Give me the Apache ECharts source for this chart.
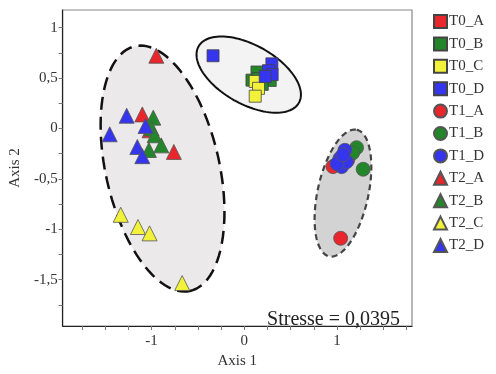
<!DOCTYPE html>
<html>
<head>
<meta charset="utf-8">
<script src="https://cdn.jsdelivr.net/npm/echarts@6/dist/echarts.min.js"></script>
<style>html,body{margin:0;padding:0;background:#fff}#c{width:496px;height:374px}</style>
</head>
<body>
<div id="c"></div>
<script>
var seriesNames = ['T0_A','T0_B','T0_C','T0_D','T1_A','T1_B','T1_D','T2_A','T2_B','T2_C','T2_D'];
var T0_A = [[0.204, 0.495]];
var T0_B = [[0.137, 0.560], [0.083, 0.479], [0.280, 0.476], [0.194, 0.437], [0.151, 0.495]];
var T0_C = [[0.118, 0.466], [0.154, 0.398], [0.118, 0.320]];
var T0_D = [[-0.337, 0.721], [0.298, 0.641], [0.261, 0.573], [0.301, 0.534], [0.226, 0.515]];
var T1_A = [[0.957, -0.379], [1.040, -1.090], [1.118, -0.311]];
var T1_B = [[1.212, -0.191], [1.169, -0.243], [1.283, -0.405]];
var T1_D = [[1.086, -0.217], [1.032, -0.298], [1.051, -0.379], [1.104, -0.330], [1.000, -0.350], [1.065, -0.262]];
var T2_A = [[-0.949, 0.721], [-1.100, 0.139], [-1.022, -0.019], [-0.760, -0.233]];
var T2_B = [[-0.982, 0.107], [-1.000, 0.000], [-0.968, -0.068], [-1.029, -0.214], [-0.896, -0.168]];
var T2_C = [[-1.333, -0.857], [-1.147, -0.978], [-1.022, -1.041], [-0.670, -1.534]];
var T2_D = [[-1.269, 0.126], [-1.452, -0.058], [-1.065, 0.024], [-1.154, -0.184], [-1.100, -0.275]];
var seriesData = [T0_A, T0_B, T0_C, T0_D, T1_A, T1_B, T1_D, T2_A, T2_B, T2_C, T2_D];

// ellipses: center, half-axis vector u, half-axis vector v (data units)
var ellipseCenters = [[-0.882, -0.398], [0.048, 0.534], [1.065, -0.641]];
var ellipseU = [[0.296, -1.214], [0.540, -0.282], [0.148, 0.628]];
var ellipseV = [[0.599, 0.119], [-0.161, -0.252], [0.268, -0.051]];

var xLabelValues = [-1, 0, 1];
var yLabelValues = [-1.5, -1, -0.5, 0, 0.5, 1];
var xTickValues = [-1.75, -1.5, -1.25, -1, -0.75, -0.5, -0.25, 0, 0.25, 0.5, 0.75, 1, 1.25, 1.5, 1.75];
var yTickValues = [-1.75, -1.5, -1.25, -1, -0.75, -0.5, -0.25, 0, 0.25, 0.5, 0.75, 1];
var stressText = 'Stresse = 0,0395';

var colors = {A: '#e8262c', B: '#23862a', C: '#f2f23a', D: '#3535ee'};
var symbols = {T0: 'rect', T1: 'circle', T2: 'triangle'};
var sizes = {T0: 12, T1: 14, T2: 15};

var ellipseStyles = [
  {fill: '#ebe9ea', stroke: '#111', lineWidth: 2.5, lineDash: [13, 7]},
  {fill: '#f3f3f3', stroke: '#111', lineWidth: 2, lineDash: null},
  {fill: '#d4d3d4', stroke: '#444', lineWidth: 2.2, lineDash: [6, 4]}
];

var series = [{
  type: 'custom',
  name: 'ellipses',
  silent: true,
  z: 1,
  data: ellipseCenters.map(function (c, i) { return [c[0], c[1], i]; }),
  encode: {x: 0, y: 1},
  renderItem: function (params, api) {
    var i = params.dataIndex;
    var c = ellipseCenters[i], u = ellipseU[i], v = ellipseV[i];
    var pts = [];
    for (var k = 0; k < 120; k++) {
      var t = k / 120 * Math.PI * 2;
      pts.push(api.coord([c[0] + Math.cos(t) * u[0] + Math.sin(t) * v[0],
                          c[1] + Math.cos(t) * u[1] + Math.sin(t) * v[1]]));
    }
    var s = ellipseStyles[i];
    return {type: 'polygon', shape: {points: pts},
      style: {fill: s.fill, stroke: s.stroke, lineWidth: s.lineWidth, lineDash: s.lineDash}};
  }
}];

seriesNames.forEach(function (n, i) {
  var t = n.split('_')[0], g = n.split('_')[1];
  series.push({
    type: 'scatter', name: n, data: seriesData[i], z: 5,
    symbol: symbols[t], symbolSize: sizes[t],
    itemStyle: {color: colors[g], borderColor: t === 'T0' ? '#444' : '#555', borderWidth: 0.8, opacity: 1}
  });
});

var fmt = function (v) { return String(v).replace('.', ','); };
var font = 'Liberation Serif';

var chart = echarts.init(document.getElementById('c'), null, {renderer: 'canvas'});
chart.setOption({
  animation: false,
  backgroundColor: '#fff',
  textStyle: {fontFamily: font},
  grid: {left: 62, top: 10, right: 84, bottom: 41, show: true, borderColor: '#888', borderWidth: 1.2},
  xAxis: {
    type: 'value', min: -1.96, max: 1.81,
    name: 'Axis 1', nameLocation: 'middle', nameGap: 28,
    nameTextStyle: {fontFamily: font, fontSize: 15, color: '#333'},
    axisLine: {show: true, onZero: false, lineStyle: {color: '#222', width: 1.2}},
    axisTick: {show: true, length: 4, customValues: xTickValues, lineStyle: {color: '#777'}},
    axisLabel: {customValues: xLabelValues, formatter: fmt, fontFamily: font, fontSize: 15, color: '#333', margin: 8},
    splitLine: {show: false}
  },
  yAxis: {
    type: 'value', min: -1.96, max: 1.175,
    name: 'Axis 2', nameLocation: 'middle', nameGap: 34,
    nameTextStyle: {fontFamily: font, fontSize: 15, color: '#333'},
    axisLine: {show: true, onZero: false, lineStyle: {color: '#222', width: 1.2}},
    axisTick: {show: true, length: 4, customValues: yTickValues, lineStyle: {color: '#777'}},
    axisLabel: {customValues: yLabelValues, formatter: fmt, fontFamily: font, fontSize: 15, color: '#333', margin: 5},
    splitLine: {show: false}
  },
  legend: {
    orient: 'vertical', left: 428, top: 9,
    data: seriesNames,
    itemWidth: 13, itemHeight: 13, itemGap: 7.4,
    textStyle: {fontFamily: font, fontSize: 15, color: '#333', padding: [0, 0, 0, -3]}
  },
  graphic: [{
    type: 'text', right: 96, top: 310,
    style: {text: stressText, font: '20px "Liberation Serif"', fill: '#222'}
  }],
  series: series
});
</script>
</body>
</html>
